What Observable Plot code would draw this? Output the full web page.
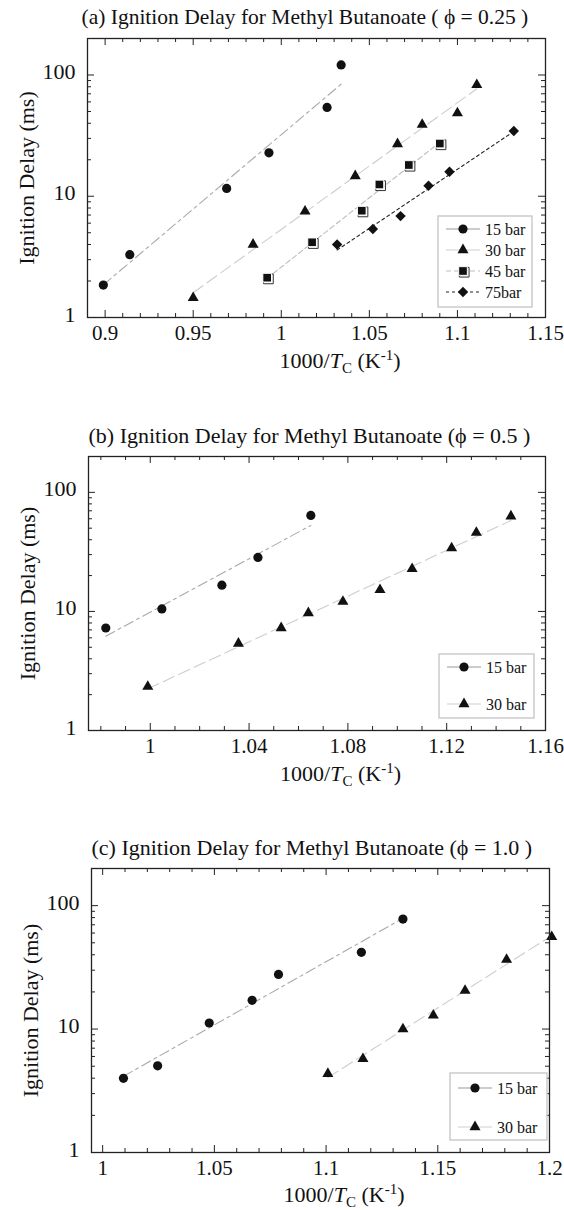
<!DOCTYPE html>
<html><head><meta charset="utf-8">
<script src="https://cdn.jsdelivr.net/npm/d3@7"></script>
<script src="https://cdn.jsdelivr.net/npm/@observablehq/plot@0.6"></script>
<style>
body{margin:0;background:#fff;width:564px;overflow:hidden}
svg{display:block}
</style></head><body><div id="chart"></div>
<script>
// ---------- DATA ----------
// Panel (a) phi = 0.25
const a15x = [0.899, 0.914, 0.969, 0.993, 1.026, 1.034];
const a15y = [1.85, 3.3, 11.6, 22.8, 54, 121];
const a30x = [0.950, 0.984, 1.0135, 1.042, 1.066, 1.080, 1.100, 1.111];
const a30y = [1.45, 4.0, 7.5, 14.7, 27, 39, 48.5, 83];
const a45x = [0.992, 1.0175, 1.0457, 1.0557, 1.0724, 1.090];
const a45y = [2.13, 4.17, 7.6, 12.5, 18.1, 27.2];
const a75x = [1.0317, 1.052, 1.0677, 1.0836, 1.0955, 1.132];
const a75y = [4.0, 5.36, 6.86, 12.2, 15.9, 34.5];
// Panel (b) phi = 0.5
const b15x = [0.982, 1.0047, 1.029, 1.0436, 1.065];
const b15y = [7.26, 10.5, 16.6, 28.4, 64];
const b30x = [0.999, 1.0357, 1.053, 1.064, 1.078, 1.093, 1.106, 1.122, 1.132, 1.146];
const b30y = [2.34, 5.38, 7.26, 9.7, 12.1, 15.2, 22.8, 34, 46, 63];
// Panel (c) phi = 1.0
const c15x = [1.0093, 1.0246, 1.0477, 1.0669, 1.0787, 1.1158, 1.1344];
const c15y = [3.99, 5.04, 11.2, 17.1, 27.7, 41.9, 77.9];
const c30x = [1.1008, 1.1165, 1.1344, 1.148, 1.1622, 1.1808, 1.201];
const c30y = [4.35, 5.74, 10.0, 12.9, 20.5, 36.5, 55.8];

// tick labels
const xTicksA = [0.9, 0.95, 1, 1.05, 1.1, 1.15];
const xTicksB = [1, 1.04, 1.08, 1.12, 1.16];
const xTicksC = [1, 1.05, 1.1, 1.15, 1.2];
const yTickLabels = [1, 10, 100];
const titles = [
  "(a) Ignition Delay for Methyl Butanoate ( ϕ = 0.25 )",
  "(b) Ignition Delay for Methyl Butanoate (ϕ = 0.5 )",
  "(c) Ignition Delay for Methyl Butanoate (ϕ = 1.0 )"
];
const yLabel = "Ignition Delay (ms)";

// ---------- STYLES ----------
const FONT = "'Liberation Serif', 'Times New Roman', serif";
const SYM = {
  "15 bar": {symbol: "circle", r: 4.6, d3: d3.symbolCircle},
  "30 bar": {symbol: "triangle", r: 4.1, d3: d3.symbolTriangle},
  "45 bar": {symbol: "square", r: 4.9, d3: d3.symbolSquare},
  "75bar": {symbol: "diamond2", r: 4.7, d3: d3.symbolDiamond2}
};
const LINE = {
  "15 bar": {stroke: "#a9a9a9", dash: "10,4,3,4", lstroke: "#9a9a9a", ldash: null},
  "30 bar": {stroke: "#cdcdcd", dash: "12,5", lstroke: "#cfcfcf", ldash: null},
  "45 bar": {stroke: "#bdbdbd", dash: "5,3", lstroke: "#bdbdbd", ldash: "5,3"},
  "75bar": {stroke: "#222", dash: "3,3", lstroke: "#222", ldash: "3,3"}
};

function rows(xs, ys) { return xs.map((x, i) => ({x, y: ys[i]})); }
// least-squares fit of log10(y) vs x, drawn between the extreme x of the data
function fit(xs, ys) {
  const ly = ys.map(Math.log10);
  const mx = d3.mean(xs), my = d3.mean(ly);
  const b = d3.sum(xs, (x, i) => (x - mx) * (ly[i] - my)) / d3.sum(xs, x => (x - mx) ** 2);
  const a = my - b * mx;
  const [x0, x1] = d3.extent(xs);
  return [{x: x0, y: 10 ** (a + b * x0)}, {x: x1, y: 10 ** (a + b * x1)}];
}

function panel(cfg) {
  const W = 564;
  const {svgTop, svgBottom, frame} = cfg;
  const H = svgBottom - svgTop;
  const marginTop = frame.top - svgTop, marginBottom = svgBottom - frame.bottom;
  const marginLeft = frame.left, marginRight = W - frame.right;
  const fw = frame.right - frame.left, fh = frame.bottom - frame.top;
  const [d0, d1] = cfg.xDomain;
  const allX = d3.range(Math.ceil(d0 * 100 - 1e-6), Math.floor(d1 * 100 + 1e-6) + 1).map(i => i / 100);
  const isMajor = v => cfg.xTicks.some(t => Math.abs(t - v) < 1e-6);
  const xMaj = allX.filter(isMajor), xMin = allX.filter(v => !isMajor(v));
  const yMaj = [1, 10, 100];
  const yMin = [];
  for (const dec of [1, 10, 100]) for (let k = 2; k <= 9; k++) if (k * dec <= 200) yMin.push(k * dec);

  const marks = [];
  const tk = "#222";
  // ticks inside the frame, on all four sides
  marks.push(Plot.tickX(xMaj, {x: d => d, insetTop: fh - 7, stroke: tk}));
  marks.push(Plot.tickX(xMaj, {x: d => d, insetBottom: fh - 7, stroke: tk}));
  marks.push(Plot.tickX(xMin, {x: d => d, insetTop: fh - 4, stroke: tk}));
  marks.push(Plot.tickX(xMin, {x: d => d, insetBottom: fh - 4, stroke: tk}));
  marks.push(Plot.tickY(yMaj, {y: d => d, insetRight: fw - 7, stroke: tk}));
  marks.push(Plot.tickY(yMaj, {y: d => d, insetLeft: fw - 7, stroke: tk}));
  marks.push(Plot.tickY(yMin, {y: d => d, insetRight: fw - 4, stroke: tk}));
  marks.push(Plot.tickY(yMin, {y: d => d, insetLeft: fw - 4, stroke: tk}));
  // fitted lines
  for (const s of cfg.series) {
    const L = LINE[s.label];
    marks.push(Plot.line(fit(s.x, s.y), {x: "x", y: "y", stroke: L.stroke, strokeDasharray: L.dash, strokeWidth: 1.1}));
  }
  // points
  for (const s of cfg.series) {
    const S = SYM[s.label];
    const data = rows(s.x, s.y);
    if (s.label === "45 bar") {
      marks.push(Plot.dot(data, {x: "x", y: "y", symbol: "square", r: S.r + 0.6, fill: "none", stroke: "#333", strokeWidth: 1, dx: 1.2, dy: 1.2}));
      marks.push(Plot.dot(data, {x: "x", y: "y", symbol: "square", r: S.r, fill: "#111", stroke: "white", strokeWidth: 1}));
    } else {
      marks.push(Plot.dot(data, {x: "x", y: "y", symbol: S.symbol, r: S.r, fill: "#111", stroke: "none"}));
    }
  }
  marks.push(Plot.frame({stroke: "#222", strokeWidth: 1.3}));
  // tick labels
  marks.push(Plot.text(cfg.xTicks, {x: d => d, frameAnchor: "bottom", lineAnchor: "middle", dy: 16, text: d => String(d), fontSize: 21}));
  marks.push(Plot.text(yTickLabels, {y: d => d, frameAnchor: "left", lineAnchor: "middle", dx: -12, dy: -3, textAnchor: "end", text: d => String(d), fontSize: 22}));
  // title and y label
  marks.push(Plot.text([cfg.title], {frameAnchor: "top-left", lineAnchor: "middle", dx: cfg.titleDx, dy: -21, textAnchor: "start", text: d => d, fontSize: cfg.titleSize}));
  marks.push(Plot.text([yLabel], {frameAnchor: "left", lineAnchor: "middle", textAnchor: "middle", dx: -61, rotate: -90, text: d => d, fontSize: 22}));

  const svg = Plot.plot({
    width: W, height: H, marginTop, marginBottom, marginLeft, marginRight,
    style: {fontFamily: FONT, color: "#111", background: "white", overflow: "visible"},
    x: {domain: cfg.xDomain, axis: null},
    y: {type: "log", domain: [1, 200], axis: null},
    marks
  });
  const g = d3.select(svg);
  // x axis title with italic T, subscript C, superscript -1
  const t = g.append("text")
    .attr("x", (frame.left + frame.right) / 2 + 24)
    .attr("y", frame.bottom - svgTop + cfg.xTitleDy)
    .attr("text-anchor", "middle")
    .attr("font-family", FONT).attr("font-size", 22).attr("fill", "#111");
  t.append("tspan").text("1000/");
  t.append("tspan").attr("font-style", "italic").text("T");
  t.append("tspan").attr("font-size", 15).attr("dy", 5).text("C");
  t.append("tspan").attr("dy", -5).text(" (K");
  t.append("tspan").attr("font-size", 15).attr("dy", -8).text("-1");
  t.append("tspan").attr("dy", 8).text(")");

  // legend box
  const lb = cfg.legend;
  const bx = frame.right - lb.gapR - lb.w;
  const by = frame.bottom - svgTop - lb.gapB - lb.h;
  const lg = g.append("g").attr("text-anchor", "start");
  lg.append("rect").attr("x", bx).attr("y", by).attr("width", lb.w).attr("height", lb.h)
    .attr("fill", "white").attr("stroke", "#c4c4c4").attr("stroke-width", 1.3);
  cfg.series.forEach((s, i) => {
    const cy = by + lb.first + i * lb.gap;
    const L = LINE[s.label], S = SYM[s.label];
    const sx = bx + 25;
    lg.append("line").attr("x1", bx + 8).attr("x2", bx + 42).attr("y1", cy).attr("y2", cy)
      .attr("stroke", L.lstroke).attr("stroke-width", 1.1).attr("stroke-dasharray", L.ldash);
    const size = Math.PI * S.r * S.r;
    if (s.label === "45 bar") {
      lg.append("path").attr("d", d3.symbol(d3.symbolSquare, Math.PI * (S.r + 0.6) ** 2)())
        .attr("transform", `translate(${sx + 1.2},${cy + 1.2})`).attr("fill", "none").attr("stroke", "#333");
      lg.append("path").attr("d", d3.symbol(d3.symbolSquare, size)())
        .attr("transform", `translate(${sx},${cy})`).attr("fill", "#111").attr("stroke", "white");
    } else {
      lg.append("path").attr("d", d3.symbol(S.d3, size)())
        .attr("transform", `translate(${sx},${cy})`).attr("fill", "#111");
    }
    lg.append("text").attr("x", bx + 47).attr("y", cy).attr("dy", "0.35em").attr("text-anchor", "start")
      .attr("font-family", FONT).attr("font-size", 16).attr("fill", "#111").text(s.label);
  });
  return svg;
}

const chart = document.getElementById("chart");
chart.append(panel({
  title: titles[0], titleSize: 21.5, titleDx: -6, xDomain: [0.89, 1.15], xTicks: xTicksA,
  svgTop: 0, svgBottom: 414, xTitleDy: 51,
  frame: {top: 38, bottom: 317, left: 87, right: 545},
  series: [
    {label: "15 bar", x: a15x, y: a15y},
    {label: "30 bar", x: a30x, y: a30y},
    {label: "45 bar", x: a45x, y: a45y},
    {label: "75bar", x: a75x, y: a75y}
  ],
  legend: {w: 94, h: 91, gapR: 13, gapB: 10, first: 13, gap: 21}
}));
chart.append(panel({
  title: titles[1], titleSize: 22, titleDx: 0, xDomain: [0.975, 1.16], xTicks: xTicksB,
  svgTop: 414, svgBottom: 830, xTitleDy: 51,
  frame: {top: 456, bottom: 730, left: 88, right: 545},
  series: [
    {label: "15 bar", x: b15x, y: b15y},
    {label: "30 bar", x: b30x, y: b30y}
  ],
  legend: {w: 95, h: 64, gapR: 11, gapB: 12, first: 13, gap: 37}
}));
chart.append(panel({
  title: titles[2], titleSize: 22, titleDx: 0, xDomain: [0.995, 1.2], xTicks: xTicksC,
  svgTop: 830, svgBottom: 1210, xTitleDy: 50,
  frame: {top: 868, bottom: 1152, left: 91, right: 549},
  series: [
    {label: "15 bar", x: c15x, y: c15y},
    {label: "30 bar", x: c30x, y: c30y}
  ],
  legend: {w: 97, h: 67, gapR: 2, gapB: 12, first: 15, gap: 39}
}));
</script></body></html>
